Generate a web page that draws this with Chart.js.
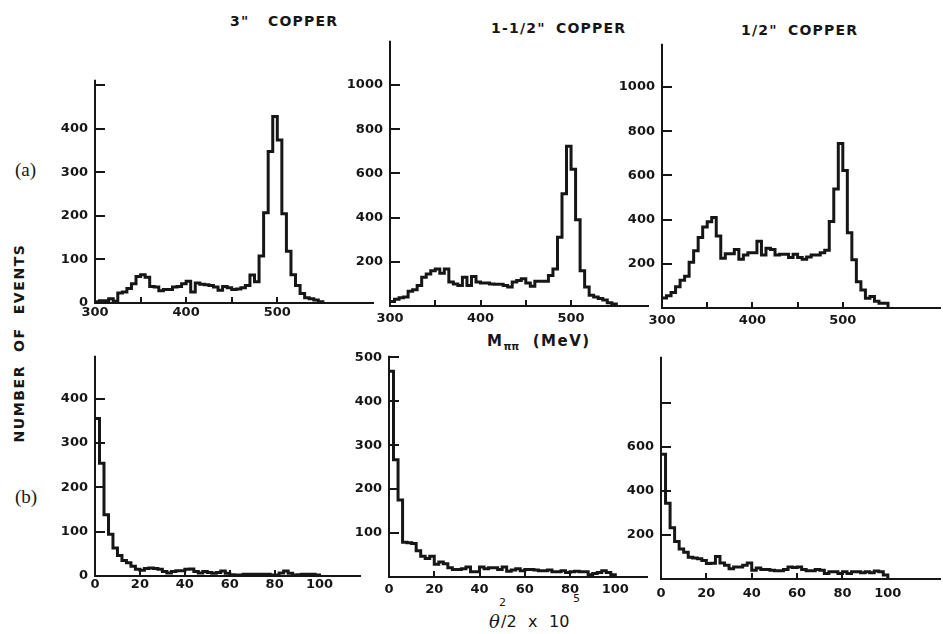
<!DOCTYPE html>
<html>
<head>
<meta charset="utf-8">
<script src="https://cdn.jsdelivr.net/npm/chart.js@4.4.1/dist/chart.umd.min.js"></script>
<style>
    html, body { margin: 0; padding: 0; background: #fff; }
    #page {
        position: relative; width: 943px; height: 634px; overflow: hidden;
        background: #fff; color: #161616;
        font-family: "DejaVu Sans", sans-serif; font-weight: bold;
    }
    #page canvas { position: absolute; }
    .txt { position: absolute; white-space: pre; line-height: 1; }
    .title { font-size: 14px; letter-spacing: 1.2px; }
    .tag { font-family: "Liberation Serif", serif; font-weight: normal; font-size: 19px; }
    .ylab {
        left: 19px; top: 343px; font-size: 14px; letter-spacing: 1.6px; word-spacing: 0;
        transform: translate(-50%, -50%) rotate(-90deg);
    }
    .mlab { font-size: 15px; letter-spacing: 1.5px; }
    .mlab sub { font-size: 10px; letter-spacing: 0; vertical-align: -4px; }
    .alab { font-weight: normal; font-size: 16px; }
    .alab.th { font-family: "DejaVu Serif", serif; font-style: italic; font-size: 18px; }
    .alab.sm { font-size: 11px; }
</style>
</head>
<body>
<div id="page">
    <div class="txt title" style="left:230px; top:14px">3"</div>
    <div class="txt title" style="left:268px; top:14px">COPPER</div>
    <div class="txt title" style="left:491px; top:21px">1-1/2"</div>
    <div class="txt title" style="left:556px; top:21px">COPPER</div>
    <div class="txt title" style="left:741px; top:23px">1/2"</div>
    <div class="txt title" style="left:788px; top:23px">COPPER</div>
    <div class="txt tag" style="left:15px; top:160px">(a)</div>
    <div class="txt tag" style="left:15px; top:487px">(b)</div>
    <div class="txt ylab">NUMBER  OF  EVENTS</div>
    <div class="txt mlab" style="left:487px; top:334px">M<sub>ππ</sub>  (MeV)</div>
    <div class="txt alab th" style="left:489px; top:613px">θ</div>
    <div class="txt alab sm" style="left:499px; top:597px">2</div>
    <div class="txt alab" style="left:501px; top:614px">/2</div>
    <div class="txt alab" style="left:528px; top:614px">x</div>
    <div class="txt alab" style="left:549px; top:614px">10</div>
    <div class="txt alab sm" style="left:573px; top:593px">5</div>
</div>

<script>
// ── data ──────────────────────────────────────────────────────────────────────
// row (a): M(ππ) in 5 MeV bins starting at 300 MeV
const massStart = 300;
const massWidth = 5;
const mass3in = [
    3, 5, 5, 10, 4, 23, 25, 33, 44, 61,
    65, 59, 38, 37, 28, 31, 31, 37, 38, 44,
    50, 25, 46, 43, 42, 40, 37, 29, 38, 35,
    31, 32, 35, 40, 64, 49, 108, 207, 348, 428,
    374, 205, 119, 65, 40, 22, 12, 10, 7, 3
];
const mass112in = [
    20, 30, 37, 41, 67, 74, 93, 130, 145, 160,
    167, 148, 167, 108, 100, 93, 130, 93, 133, 108,
    104, 104, 100, 98, 98, 93, 86, 108, 115, 123,
    104, 89, 112, 112, 112, 138, 167, 311, 508, 723,
    619, 390, 160, 86, 49, 41, 34, 27, 15, 9
];
const mass12in = [
    45, 55, 70, 96, 126, 144, 207, 259, 319, 366,
    390, 410, 326, 225, 246, 246, 265, 221, 240, 250,
    250, 302, 240, 270, 265, 240, 243, 243, 228, 243,
    228, 221, 231, 240, 240, 250, 261, 391, 539, 744,
    622, 341, 218, 119, 81, 44, 52, 30, 22, 22
];

// row (b): θ²/2 x 10^5 in bins of 2 starting at 0
const angleStart = 0;
const angleWidth = 2;
const angle3in = [
    355, 254, 138, 94, 63, 46, 35, 30, 22, 15,
    13, 17, 18, 17, 15, 10, 7, 10, 12, 12,
    15, 16, 10, 7, 10, 8, 6, 8, 11, 6,
    3, 2, 2, 4, 4, 4, 4, 4, 4, 2,
    2, 7, 11, 6, 2, 3, 4, 4, 4, 2
];
const angle112in = [
    468, 267, 175, 79, 78, 76, 60, 47, 42, 47,
    29, 34, 30, 21, 17, 17, 19, 23, 12, 12,
    23, 19, 21, 21, 17, 23, 13, 16, 19, 14,
    17, 17, 16, 14, 14, 16, 12, 12, 14, 10,
    12, 13, 12, 12, 5, 8, 10, 14, 10, 5
];
const angle12in = [
    566, 344, 233, 170, 136, 121, 99, 95, 92, 84,
    70, 72, 102, 73, 62, 47, 55, 55, 62, 73,
    40, 50, 43, 43, 40, 37, 37, 43, 55, 52,
    55, 43, 37, 37, 43, 40, 25, 33, 33, 25,
    33, 25, 33, 33, 28, 33, 28, 36, 33, 18
];

// ── ticks ─────────────────────────────────────────────────────────────────────
const massLabels  = [300, 400, 500];
const massMarks   = [350, 400, 450, 500];
const angleLabels = [0, 20, 40, 60, 80, 100];
const angleMarks  = [20, 40, 60, 80];

const yLabels3inA     = [0, 100, 200, 300, 400];
const yMarks3inA      = [100, 200, 300, 400, 500];
const yLabelsThousand = [200, 400, 600, 800, 1000];
const yLabels3inB     = [0, 100, 200, 300, 400];
const yMarks3inB      = [100, 200, 300, 400];
const yLabels112inB   = [100, 200, 300, 400, 500];
const yLabels12inB    = [200, 400, 600];
const yMarks12inB     = [200, 400, 600, 800];

// ── layout ────────────────────────────────────────────────────────────────────
const INK = '#161616';
const TICK_FONT = { family: 'DejaVu Sans', size: 13, weight: 'bold' };
const PAD_TOP = 10;
const X_AXIS_H = 26;
const Y_AXIS_W = 52;

const panels = [
    { counts: mass3in,    start: massStart,  width: massWidth,  xMin: 300, xMax: 605,
      yMax: 510,  xLabels: massLabels,  xMarks: massMarks,  yLabels: yLabels3inA,     yMarks: yMarks3inA,
      box: { axisX: 95,  baseY: 303, topY: 76,  rightX: 373 }, xPad: 2 },
    { counts: mass112in,  start: massStart,  width: massWidth,  xMin: 300, xMax: 585,
      yMax: 1195, xLabels: massLabels,  xMarks: massMarks,  yLabels: yLabelsThousand, yMarks: yLabelsThousand,
      box: { axisX: 390, baseY: 306, topY: 37,  rightX: 648 }, xPad: 5 },
    { counts: mass12in,   start: massStart,  width: massWidth,  xMin: 300, xMax: 607.5,
      yMax: 1191, xLabels: massLabels,  xMarks: massMarks,  yLabels: yLabelsThousand, yMarks: yLabelsThousand,
      box: { axisX: 662, baseY: 308, topY: 40,  rightX: 940 }, xPad: 5 },
    { counts: angle3in,   start: angleStart, width: angleWidth, xMin: 0,   xMax: 118,
      yMax: 494,  xLabels: angleLabels, xMarks: angleMarks, yLabels: yLabels3inB,     yMarks: yMarks3inB,
      box: { axisX: 95,  baseY: 576, topY: 352, rightX: 360 }, xPad: 1 },
    { counts: angle112in, start: angleStart, width: angleWidth, xMin: 0,   xMax: 114,
      yMax: 501,  xLabels: angleLabels, xMarks: angleMarks, yLabels: yLabels112inB,   yMarks: yLabels112inB,
      box: { axisX: 389, baseY: 577, topY: 352, rightX: 647 }, xPad: 5 },
    { counts: angle12in,  start: angleStart, width: angleWidth, xMin: 0,   xMax: 123,
      yMax: 1004, xLabels: angleLabels, xMarks: angleMarks, yLabels: yLabels12inB,    yMarks: yMarks12inB,
      box: { axisX: 661, baseY: 579, topY: 353, rightX: 940 }, xPad: 7 },
];

// step outline: one point per bin left edge, then drop to zero at the last edge
function histPoints(start, width, counts) {
    const pts = counts.map((c, i) => ({ x: start + i * width, y: c }));
    pts.push({ x: start + counts.length * width, y: 0 });
    return pts;
}

// axes drawn as plain lines with the tick marks pointing inward, like the plot
const inwardAxes = {
    id: 'inwardAxes',
    beforeDatasetsDraw(chart, args, opts) {
        const { ctx, chartArea: a, scales: { x, y } } = chart;
        ctx.save();
        ctx.strokeStyle = INK;
        ctx.lineWidth = 2;
        ctx.lineCap = 'square';
        ctx.beginPath();
        ctx.moveTo(a.left, a.top);
        ctx.lineTo(a.left, a.bottom);
        ctx.lineTo(a.right, a.bottom);
        opts.yMarks.forEach(v => {
            const py = Math.round(y.getPixelForValue(v));
            ctx.moveTo(a.left, py);
            ctx.lineTo(a.left + 9, py);
        });
        opts.xMarks.forEach(v => {
            const px = Math.round(x.getPixelForValue(v));
            ctx.moveTo(px, a.bottom);
            ctx.lineTo(px, a.bottom - 5);
        });
        ctx.stroke();
        ctx.restore();
    }
};

const page = document.getElementById('page');

panels.forEach(p => {
    const b = p.box;
    const canvas = document.createElement('canvas');
    const w = b.rightX - b.axisX + Y_AXIS_W + 3;
    const h = b.baseY - b.topY + PAD_TOP + X_AXIS_H;
    canvas.width = w;
    canvas.height = h;
    canvas.style.left = (b.axisX - Y_AXIS_W) + 'px';
    canvas.style.top = (b.topY - PAD_TOP) + 'px';
    canvas.style.width = w + 'px';
    canvas.style.height = h + 'px';
    page.appendChild(canvas);

    new Chart(canvas, {
        type: 'line',
        data: {
            datasets: [{
                data: histPoints(p.start, p.width, p.counts),
                stepped: 'before',
                borderColor: INK,
                borderWidth: 3,
                borderJoinStyle: 'miter',
                pointRadius: 0,
                fill: false,
            }]
        },
        options: {
            responsive: false,
            animation: false,
            devicePixelRatio: 1,
            events: [],
            layout: { padding: { top: PAD_TOP, right: 3, left: 0, bottom: 0 } },
            plugins: {
                legend: { display: false },
                tooltip: { enabled: false },
                inwardAxes: { xMarks: p.xMarks, yMarks: p.yMarks },
            },
            scales: {
                x: {
                    type: 'linear', min: p.xMin, max: p.xMax,
                    grid: { display: false, drawTicks: false },
                    border: { display: false },
                    afterBuildTicks: s => { s.ticks = p.xLabels.map(value => ({ value })); },
                    afterFit: s => { s.height = X_AXIS_H; },
                    ticks: {
                        autoSkip: false, maxRotation: 0, padding: p.xPad,
                        color: INK, font: TICK_FONT, callback: v => String(v)
                    }
                },
                y: {
                    type: 'linear', min: 0, max: p.yMax,
                    grid: { display: false, drawTicks: false },
                    border: { display: false },
                    afterBuildTicks: s => { s.ticks = p.yLabels.map(value => ({ value })); },
                    afterFit: s => { s.width = Y_AXIS_W; },
                    ticks: { padding: 7, color: INK, font: TICK_FONT, callback: v => String(v) }
                }
            }
        },
        plugins: [inwardAxes]
    });
});
</script>
</body>
</html>
